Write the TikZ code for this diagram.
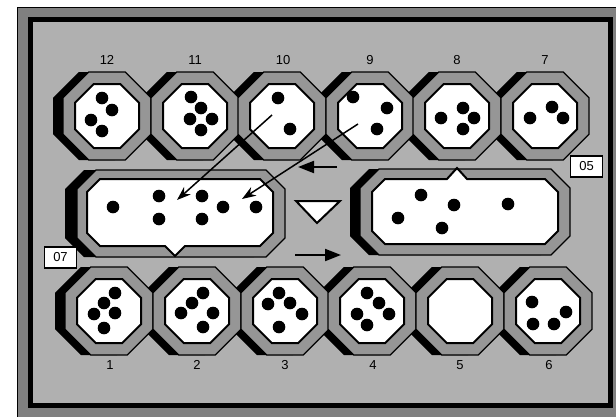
\documentclass[tikz,border=0pt]{standalone}
\usepackage{fontspec}
\setmainfont{Liberation Sans}
\usetikzlibrary{arrows.meta}
\definecolor{boardgray}{RGB}{176,176,176}
\definecolor{bandgray}{RGB}{150,150,150}
\definecolor{framegray}{RGB}{128,128,128}
\newcommand\octa[3]{({#1-0.4142*#3},{#2-#3}) -- ({#1+0.4142*#3},{#2-#3}) -- ({#1+#3},{#2-0.4142*#3}) -- ({#1+#3},{#2+0.4142*#3}) -- ({#1+0.4142*#3},{#2+#3}) -- ({#1-0.4142*#3},{#2+#3}) -- ({#1-#3},{#2+0.4142*#3}) -- ({#1-#3},{#2-0.4142*#3}) -- cycle}
\newcommand\loct[5]{({#1+#5},#2) -- ({#3-#5},#2) -- (#3,{#2+#5}) -- (#3,{#4-#5}) -- ({#3-#5},#4) -- ({#1+#5},#4) -- (#1,{#4-#5}) -- (#1,{#2+#5}) -- cycle}
\begin{document}
\begin{tikzpicture}[x=1pt,y=-1pt,
 shade/.style={fill=black},
 band/.style={fill=bandgray,draw=black,line width=1.2pt},
 cup/.style={fill=white,draw=black,line width=2pt,line join=miter},
 num/.style={font=\fontsize{13}{15}\selectfont,inner sep=0pt},
 tag/.style={draw=black,fill=white,line width=1.2pt,minimum width=32pt,minimum height=21pt,inner sep=0pt,font=\fontsize{13}{15}\selectfont},
 move/.style={line width=1.5pt,-{Stealth[length=14pt,width=10pt]}},
 turn/.style={line width=2pt,-{Triangle[length=16pt,width=12pt]}}]
\clip (0,0) rectangle (616,416);
\fill[white] (0,0) rectangle (616,416);
% frame
\fill[framegray] (17.5,7.5) rectangle (640,440);
\draw[line width=1.2pt] (17.5,440) -- (17.5,7.5) -- (640,7.5);
\draw[line width=5pt,fill=boardgray] (30,19.5) rectangle (610.5,405.5);
% shadows of pits
\foreach \x in {107,195,282,370,457,545}{\path[shade] \octa{\x-10}{116}{44};}
\foreach \x in {109,197,285,372,460,548}{\path[shade] \octa{\x-10}{311}{44};}
% shadows of stores
\path[shade] \loct{65}{170}{273}{257}{19};
\path[shade] \loct{350}{169}{560}{255}{19};
% pits
\foreach \x in {107,195,282,370,457,545}{\path[band] \octa{\x}{116}{44}; \path[cup] \octa{\x}{116}{32};}
\foreach \x in {109,197,285,372,460,548}{\path[band] \octa{\x}{311}{44}; \path[cup] \octa{\x}{311}{32};}
% stores
\path[band] \loct{77}{170}{285}{257}{19};
\path[cup] (100,179) -- (260,179) -- (273,192) -- (273,233) -- (260,246) -- (185,246) -- (175,256) -- (165,246) -- (100,246) -- (87,233) -- (87,192) -- cycle;
\path[band] \loct{360}{169}{570}{255}{19};
\path[cup] (385,179) -- (447,179) -- (457,168) -- (467,179) -- (545,179) -- (558,192) -- (558,231) -- (545,244) -- (385,244) -- (372,231) -- (372,192) -- cycle;
% seeds
\foreach \p in {(102,98),(112,110),(91,120),(102,131),
 (191,97),(201,108),(190,119),(212,119),(201,130),
 (278,98),(290,129),
 (353,97),(387,108),(377,129),
 (441,118),(463,108),(474,118),(463,129),
 (530,118),(552,107),(563,118),
 (115,293),(104,303),(94,314),(115,313),(104,328),
 (203,293),(192,303),(181,313),(213,313),(203,327),
 (279,293),(290,303),(268,304),(302,314),(279,327),
 (367,293),(379,303),(357,314),(389,314),(367,325),
 (532,302),(566,312),(533,324),(554,324),
 (113,207),(159,196),(159,219),(202,196),(202,219),(223,207),(256,207),
 (421,195),(454,205),(398,218),(442,228),(508,204)}
 {\fill \p circle (6.3);}
% pit numbers
\node[num] (n12) at (107,60) {12};
\node[num] (n11) at (195,60) {11};
\node[num] (n10) at (283,60) {10};
\node[num] (n9) at (370,60) {9};
\node[num] (n8) at (457,60) {8};
\node[num] (n7) at (545,60) {7};
\node[num] (n1) at (110,365) {1};
\node[num] (n2) at (197,365) {2};
\node[num] (n3) at (285,365) {3};
\node[num] (n4) at (373,365) {4};
\node[num] (n5) at (460,365) {5};
\node[num] (n6) at (549,365) {6};
% score tags
\node[tag] (s07) at (60.5,257.5) {07};
\node[tag] (s05) at (586.5,166.5) {05};
% turn indicator
\draw[line width=2pt,fill=white,line join=miter] (296,201) -- (340,201) -- (317,223) -- cycle;
% arrows
\coordinate (a1s) at (272,115); \coordinate (a1e) at (177,200);
\coordinate (a2s) at (358,124); \coordinate (a2e) at (242,199);
\coordinate (t1s) at (337,167); \coordinate (t1e) at (298,167);
\coordinate (t2s) at (295,255); \coordinate (t2e) at (341,255);
\draw[move] (a1s) -- (a1e);
\draw[move] (a2s) -- (a2e);
\draw[turn] (t1s) -- (t1e);
\draw[turn] (t2s) -- (t2e);
\end{tikzpicture}
\end{document}
